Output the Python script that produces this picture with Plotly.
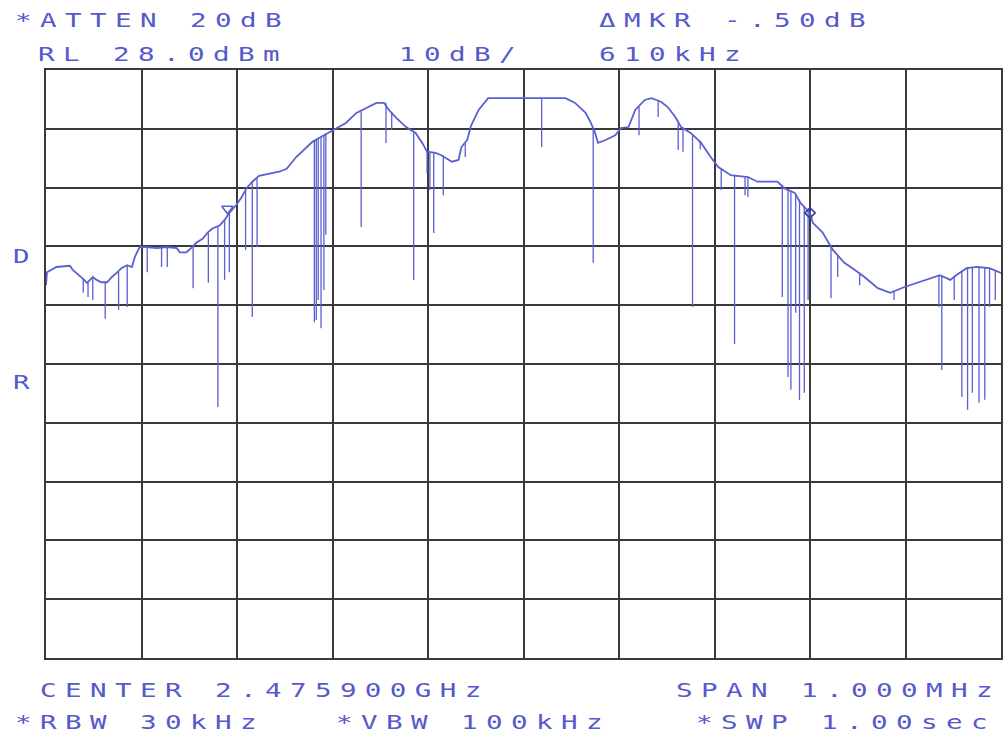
import plotly.graph_objects as go

# Sweep trace envelope: frequency offset from centre (kHz) and level (dBm)
env_khz = [-500, -499, -489, -475, -472, -468, -462, -457, -451, -447, -442, -436,
           -431, -426, -421, -415, -410, -407, -402, -395, -384, -374, -363, -360,
           -353, -348, -342, -336, -331, -326, -318, -313, -308, -301, -295, -290,
           -284, -277, -263, -256, -248, -238, -221, -200, -186, -175, -165, -154,
           -146, -141, -134, -123, -113, -106, -101, -92, -86, -75, -68, -65,
           -59, -55, -47, -37, -13, 44, 54, 65, 70, 75, 78, 86,
           96, 102, 110, 117, 127, 134, 144, 151, 159, 165, 175, 186,
           196, 204, 217, 235, 245, 266, 273, 284, 290, 300, 303, 313,
           324, 336, 347, 357, 371, 384, 399, 412, 426, 436, 447, 453,
           464, 475, 488, 500]
env_dbm = [-8.6, -6.4, -5.5, -5.3, -6.0, -6.5, -7.4, -8.2, -7.2, -7.7, -8.1, -8.1,
           -7.2, -6.5, -5.7, -5.2, -5.5, -3.8, -2.1, -2.1, -2.3, -2.1, -2.3, -3.0,
           -3.0, -2.3, -1.3, -0.7, 0.3, 1.0, 1.6, 2.5, 3.7, 5.0, 6.4, 7.9,
           9.0, 10.0, 10.5, 10.7, 11.2, 13.2, 15.8, 17.8, 19.0, 20.7, 21.5, 22.4,
           22.4, 21.2, 20.0, 18.3, 17.3, 15.6, 14.1, 13.9, 13.5, 12.4, 12.7, 14.9,
           16.1, 18.5, 21.2, 23.2, 23.2, 23.2, 22.4, 20.7, 19.2, 17.3, 15.6, 16.1,
           16.9, 18.1, 18.3, 21.2, 22.9, 23.2, 22.6, 21.7, 20.0, 18.3, 17.3, 15.6,
           13.2, 11.5, 10.1, 9.8, 9.0, 9.0, 7.9, 7.1, 5.4, 3.7, 2.0, 0.4,
           -2.6, -4.8, -6.0, -7.2, -9.1, -9.9, -8.9, -8.2, -7.4, -6.9, -7.7, -6.9,
           -5.7, -5.5, -5.7, -6.5]

# Narrow notches in the trace: frequency (kHz), level at top and bottom (dBm)
dip_khz = [-461, -456, -451, -438, -424, -415, -394, -379, -373, -346, -330, -320,
           -313, -308, -291, -284, -279, -219, -217, -215, -212, -209, -207, -170,
           -144, -138, -115, -101, -98, -94, -84, -61, 19, 73, 121, 141,
           162, 167, 177, 185, 207, 221, 232, 235, 271, 277, 280, 285,
           289, 294, 298, 322, 329, 352, 388, 435, 438, 451, 459, 465,
           470, 477, 483, 488, 494]
dip_top = [-7.4, -8.2, -7.2, -8.1, -6.3, -5.2, -2.1, -2.2, -2.1, -2.0, 0.3, 1.4,
           2.5, 3.7, 7.5, 9.0, 9.6, 16.0, 16.2, 16.4, 16.7, 17.0, 17.2, 21.0,
           22.4, 20.8, 17.5, 14.1, 14.0, 13.9, 13.5, 15.5, 23.2, 18.0, 21.8, 22.8,
           19.0, 18.2, 17.0, 16.0, 11.2, 10.0, 9.8, 9.8, 8.5, 7.7, 7.4, 7.0,
           6.0, 4.8, 4.0, -2.0, -3.5, -6.5, -9.7, -6.9, -7.0, -7.2, -6.2, -5.7,
           -5.6, -5.5, -5.6, -5.7, -6.0]
dip_bottom = [-9.9, -10.6, -11.1, -14.3, -12.8, -12.3, -6.4, -5.5, -5.5, -9.1, -8.2, -29.3,
              -7.7, -6.4, -2.6, -14.0, -2.1, -14.9, -14.5, -11.1, -15.9, -9.4, 0.0, 1.3,
              15.6, 17.8, -7.7, 10.5, 7.6, 0.3, 6.7, 13.2, 14.9, -4.8, 16.9, 20.0,
              14.4, 14.1, -12.3, 14.5, 7.6, -18.6, 6.7, 6.4, -10.6, -24.2, -26.4, -13.3,
              -28.1, -26.9, -11.1, -10.8, -7.2, -8.6, -11.1, -12.3, -23.0, -11.1, -27.6, -29.8,
              -26.9, -28.6, -28.1, -12.3, -11.1]

# Reference marker and delta marker (kHz, dBm)
ref_marker = (-310, 4.4)
delta_marker = (300, 3.7)

# Analyzer settings printed around the graticule
header_left = ["*ATTEN 20dB", "RL 28.0dBm"]
header_mid = "10dB/"
header_right = ["ΔMKR -.50dB", "610kHz"]
footer = ["CENTER 2.475900GHz", "SPAN 1.000MHz", "*RBW 30kHz", "*VBW 100kHz", "*SWP 1.00sec"]
side_labels = ["D", "R"]

TRACE = "#5a60d2"
TEXT = "#5559cc"
GRID = "#3a3a3a"

W, H = 1005, 735
L, R, T, B = 46, 2, 70, 77
PW, PH = W - L - R, H - T - B


def px(x):
    return (x - L) / PW


def py(y):
    return (H - B - y) / PH


fig = go.Figure()

fig.add_trace(go.Scatter(
    x=env_khz, y=env_dbm, mode="lines",
    line=dict(color=TRACE, width=1.8, shape="linear"),
    hoverinfo="skip", showlegend=False,
))

dx, dy = [], []
for f, top, bot in zip(dip_khz, dip_top, dip_bottom):
    dx += [f, f, None]
    dy += [top, bot, None]
fig.add_trace(go.Scatter(
    x=dx, y=dy, mode="lines",
    line=dict(color=TRACE, width=1.3),
    hoverinfo="skip", showlegend=False,
))

fig.add_trace(go.Scatter(
    x=[ref_marker[0]], y=[ref_marker[1]], mode="markers",
    marker=dict(symbol="triangle-down-open", size=10, color=TRACE, line=dict(width=1.6)),
    hoverinfo="skip", showlegend=False,
))
fig.add_trace(go.Scatter(
    x=[delta_marker[0]], y=[delta_marker[1]], mode="markers",
    marker=dict(symbol="diamond-open", size=8, color="#3a3f9a", line=dict(width=1.6)),
    hoverinfo="skip", showlegend=False,
))

font = dict(family="DejaVu Sans Mono", size=19, color=TEXT)
labels = [
    (header_left[0], 14, 20),
    (header_left[1], 37, 54),
    (header_mid, 399, 54),
    (header_right[0], 599, 20),
    (header_right[1], 599, 54),
    (footer[0], 39, 690),
    (footer[1], 676, 690),
    (footer[2], 14, 722),
    (footer[3], 336, 722),
    (footer[4], 696, 722),
    (side_labels[0], 12, 256),
    (side_labels[1], 12, 382),
]
annotations = [
    dict(text=t, x=px(x), y=py(y), xref="paper", yref="paper",
         xanchor="left", yanchor="middle", align="left",
         showarrow=False, font=font, borderpad=0)
    for t, x, y in labels
]

axis_common = dict(
    showgrid=True, gridcolor=GRID, gridwidth=1.6,
    showline=True, linecolor=GRID, linewidth=2, mirror=True,
    zeroline=False, ticks="", showticklabels=False, tickmode="linear",
    fixedrange=True,
)
fig.update_layout(
    width=W, height=H,
    margin=dict(l=L, r=R, t=T, b=B),
    paper_bgcolor="white", plot_bgcolor="white",
    xaxis=dict(range=[-500, 500], tick0=-500, dtick=100, **axis_common),
    yaxis=dict(range=[-72, 28], tick0=-72, dtick=10, **axis_common),
    annotations=annotations,
    showlegend=False,
)

# Wide plotter-style glyphs at a fixed 25 px character pitch
post = """
document.body.style.margin = '0';
var gd = document.getElementById('{plot_id}');
gd.querySelectorAll('.annotation-text').forEach(function (t) {
    t.style.letterSpacing = '5.8px';
    t.style.transformBox = 'fill-box';
    t.style.transformOrigin = 'left center';
    t.style.transform = 'scaleX(1.45)';
});
"""

fig.write_html("out.html", config={"displayModeBar": False}, post_script=post)
